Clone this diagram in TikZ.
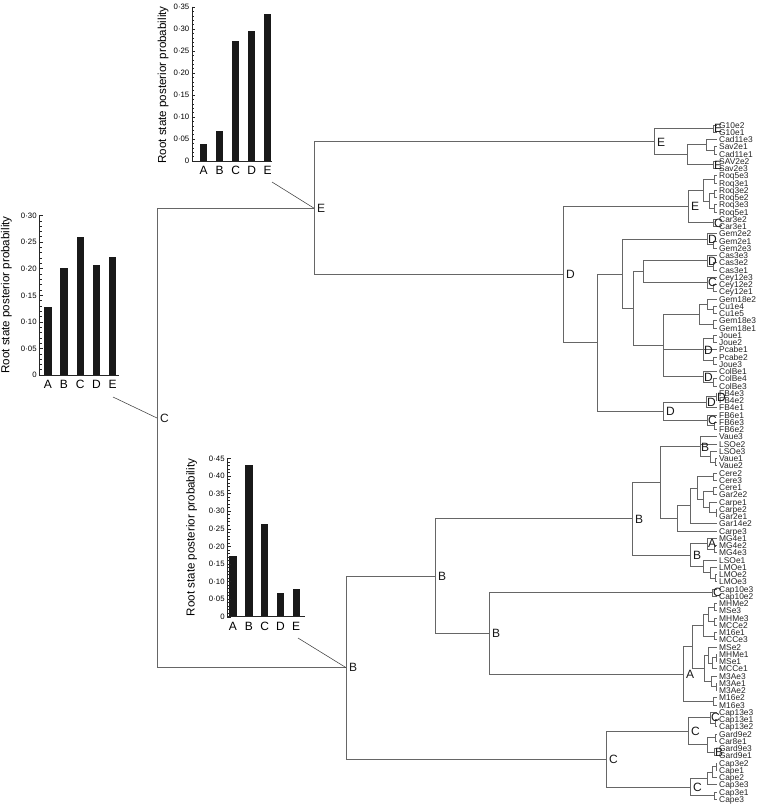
\documentclass[tikz,border=0pt]{standalone}
\usepackage{fontspec}
\setmainfont{Liberation Sans}
\usetikzlibrary{calc}
\newcommand\innode[4]{%
  \path let \p1=(#3), \p2=(#4) in coordinate (#1) at (#2pt,{0.5*(\y1+\y2)});
  \draw[br] (#1) |- (#3);
  \draw[br] (#1) |- (#4);}
\newcommand\innodeiii[5]{%
  \path let \p1=(#3), \p2=(#5) in coordinate (#1) at (#2pt,{0.5*(\y1+\y2)});
  \draw[br] (#1) |- (#3);
  \draw[br] (#1) |- (#4);
  \draw[br] (#1) |- (#5);}
\newcommand\biglab[2]{\node[nl] (n#1) at ([xshift=3pt]#1) {#2};}
\newcommand\smlab[2]{\node[nl] (n#1) at ([xshift=0.8pt]#1) {#2};}
\tikzset{
  br/.style={draw=black!60, line width=0.9pt},
  tip/.style={anchor=west, inner sep=0pt, xshift=2pt, font=\fontsize{8.4}{8.4}\selectfont, text height=6pt, text depth=0pt, text=black!85},
  nl/.style={anchor=west, inner sep=0pt, font=\fontsize{12}{12}\selectfont, text height=8.6pt, text depth=0pt, text=black!90},
  ax/.style={draw=black!85, line width=0.6pt},
  tk/.style={draw=black!85, line width=0.4pt},
  bar/.style={fill=black!90},
  ticklab/.style={anchor=east, inner sep=0pt, font=\fontsize{7.8}{7.8}\selectfont, text height=5.6pt, text depth=0pt},
  cat/.style={inner sep=0pt, font=\fontsize{12}{12}\selectfont, text height=8.6pt, text depth=0pt},
  ttl/.style={inner sep=0pt, rotate=90, font=\fontsize{11.6}{11.6}\selectfont},
  ptr/.style={draw=black!75, line width=0.55pt}
}
\begin{document}
\begin{tikzpicture}[x=1pt, y=-1pt]
\useasboundingbox (0,0) rectangle (758,804);
\fill[white] (0,0) rectangle (758,804);

% ---------- leaves ----------
\foreach \n [count=\i] in {G10e2,G10e1,Cad11e3,Sav2e1,Cad11e1,SAV2e2,Sav2e3,Roq5e3,Roq3e1,Roq3e2,Roq5e2,Roq3e3,Roq5e1,Car3e2,Car3e1,Gem2e2,Gem2e1,Gem2e3,Cas3e3,Cas3e2,Cas3e1,Cey12e3,Cey12e2,Cey12e1,Gem18e2,Cu1e4,Cu1e5,Gem18e3,Gem18e1,Joue1,Joue2,Pcabe1,Pcabe2,Joue3,ColBe1,ColBe4,ColBe3,FB4e3,FB4e2,FB4e1,FB6e1,FB6e3,FB6e2,Vaue3,LSOe2,LSOe3,Vaue1,Vaue2,Cere2,Cere3,Cere1,Gar2e2,Carpe1,Carpe2,Gar2e1,Gar14e2,Carpe3,MG4e1,MG4e2,MG4e3,LSOe1,LMOe1,LMOe2,LMOe3,Cap10e3,Cap10e2,MHMe2,MSe3,MHMe3,MCCe2,M16e1,MCCe3,MSe2,MHMe1,MSe1,MCCe1,M3Ae3,M3Ae1,M3Ae2,M16e2,M16e3,Cap13e3,Cap13e1,Cap13e2,Gard9e2,Car8e1,Gard9e3,Gard9e1,Cap3e2,Cape1,Cape2,Cap3e3,Cap3e1,Cape3} {
  \coordinate (l\i) at (717,{125+(\i-1)*7.25});
  \node[tip] (t\i) at (l\i) {\n};
}

% ---------- E clade ----------
\innode{G10}{713}{l1}{l2}
\innode{Z}{714}{l4}{l5}
\innode{Y}{706}{l3}{Z}
\innode{W}{713}{l6}{l7}
\innode{X}{687}{Y}{W}
\innode{E1}{654}{G10}{X}
\innode{R1}{714}{l8}{l9}
\innode{R3}{714}{l10}{l11}
\innode{R4}{714}{l12}{l13}
\innode{R2}{709}{R3}{R4}
\innode{R}{703}{R1}{R2}
\innode{Car3}{713}{l14}{l15}
\innode{E2}{688}{R}{Car3}
\innode{Gem2b}{713}{l17}{l18}
\innode{Gem2}{707}{l16}{Gem2b}
\innode{Cas3b}{713}{l20}{l21}
\innode{Cas3}{707}{l19}{Cas3b}
\innode{Cey12b}{713}{l23}{l24}
\innode{Cey12}{707}{l22}{Cey12b}
\innode{S}{643}{Cas3}{Cey12}
\innode{Cu1}{713}{l26}{l27}
\innode{Gem18a}{707}{l25}{Cu1}
\innode{Gem18b}{713}{l28}{l29}
\innode{U}{699}{Gem18a}{Gem18b}
\innode{Jo1}{713}{l30}{l31}
\innode{Jo2}{713}{l33}{l34}
\innodeiii{V}{703}{Jo1}{l32}{Jo2}
\innode{ColB2}{713}{l36}{l37}
\innode{ColB}{703}{l35}{ColB2}
\innodeiii{T}{663}{U}{V}{ColB}
\innode{Q}{633}{S}{T}
\innode{P}{622}{Gem2}{Q}
\innode{FB4b}{716}{l38}{l39}
\innode{FB4}{706}{FB4b}{l40}
\innode{FB6b}{714}{l42}{l43}
\innode{FB6}{707}{l41}{FB6b}
\innode{FB}{663}{FB4}{FB6}
\innode{D2}{597}{P}{FB}
\innode{D}{563}{E2}{D2}
\innode{E}{314}{E1}{D}

% ---------- B clade ----------
\innode{Vd}{715}{l47}{l48}
\innode{Vc}{710}{l46}{Vd}
\innodeiii{Vb}{700}{l44}{l45}{Vc}
\innode{CC}{713}{l49}{l50}
\innode{CG}{713}{l51}{l52}
\innode{CG2}{716}{l54}{l55}
\innode{CP}{709}{l53}{CG2}
\innode{O2}{703}{CG}{CP}
\innode{O}{697}{CC}{O2}
\innode{O3}{690}{O}{l56}
\innode{N}{677}{O3}{l57}
\innode{B4}{660}{Vb}{N}
\innode{MG4b}{714}{l59}{l60}
\innode{MG4}{707}{l58}{MG4b}
\innode{LMOb}{715}{l63}{l64}
\innode{LMO}{710}{l62}{LMOb}
\innode{L}{703}{l61}{LMO}
\innode{MG}{690}{MG4}{L}
\innode{B3}{632}{B4}{MG}
\innode{Cap10}{712}{l65}{l66}
\innode{M1a}{714}{l67}{l68}
\innode{M1b}{714}{l69}{l70}
\innode{M1}{708}{M1a}{M1b}
\innode{M2}{714}{l71}{l72}
\innode{M12}{703}{M1}{M2}
\innode{M3a}{716}{l74}{l75}
\innode{M3b}{712}{M3a}{l76}
\innode{M3}{708}{l73}{M3b}
\innode{M4b}{716}{l78}{l79}
\innode{M4}{711}{l77}{M4b}
\innode{M34}{704}{M3}{M4}
\innode{Mtop}{692}{M12}{M34}
\innode{M16}{713}{l80}{l81}
\innode{A}{683}{Mtop}{M16}
\innode{B5}{489}{Cap10}{A}
\innode{B2}{435}{B3}{B5}
\innode{Cap13b}{715}{l83}{l84}
\innode{Cap13}{710}{l82}{Cap13b}
\innode{G9a}{715}{l85}{l86}
\innode{G9b}{714}{l87}{l88}
\innode{G9}{707}{G9a}{G9b}
\innode{C2}{688}{Cap13}{G9}
\innode{Cx}{716}{l89}{l90}
\innode{Cy}{712}{Cx}{l91}
\innode{Cz}{707}{Cy}{l92}
\innode{Cw}{714}{l93}{l94}
\innode{C3}{690}{Cz}{Cw}
\innode{C1}{606}{C2}{C3}
\innode{B}{346}{B2}{C1}

% ---------- root ----------
\coordinate (root) at (157,418);
\draw[br] (root) |- (E);
\draw[br] (root) |- (B);

% ---------- node labels ----------
\biglab{root}{C}
\biglab{E}{E}
\biglab{E1}{E}
\biglab{E2}{E}
\biglab{D}{D}
\biglab{FB}{D}
\biglab{B}{B}
\biglab{B2}{B}
\biglab{B3}{B}
\biglab{B5}{B}
\biglab{MG}{B}
\biglab{A}{A}
\biglab{C1}{C}
\biglab{C2}{C}
\biglab{C3}{C}
\smlab{G10}{E}
\smlab{W}{E}
\smlab{Car3}{C}
\smlab{Gem2}{D}
\smlab{Cas3}{D}
\smlab{Cey12}{C}
\smlab{V}{D}
\smlab{ColB}{D}
\smlab{FB4}{D}
\smlab{FB4b}{D}
\smlab{FB6}{C}
\smlab{Vb}{B}
\smlab{MG4}{A}
\smlab{Cap10}{C}
\smlab{Cap13}{C}
\smlab{G9b}{B}

% ---------- chart 1 (E node) ----------
\foreach \v [count=\k from 0] in {0.038,0.068,0.272,0.295,0.335}
  \fill[bar] ({200+16*\k},161) rectangle ++(7.4,{-\v*440});
\foreach \k in {0,...,35} \draw[tk] (192,{161-\k*4.4}) -- ++(2.4,0);
\foreach \k/\t in {0/0,1/0·05,2/0·10,3/0·15,4/0·20,5/0·25,6/0·30,7/0·35} {
  \draw[tk] (192,{161-\k*22}) -- ++(3.4,0);
  \node[ticklab] (ca\k) at (189.5,{161-\k*22}) {\t};
}
\draw[ax] (192,6.5) -- (192,161) -- (272,161);
\foreach \L [count=\k from 0] in {A,B,C,D,E}
  \node[cat] (cb\k) at ({203.7+16*\k},170) {\L};
\node[ttl] (catitle) at (163,85) {Root state posterior probability};
\coordinate (pa) at (272,182);
\draw[ptr] (pa) -- (E);

% ---------- chart 2 (root) ----------
\foreach \v [count=\k from 0] in {0.127,0.201,0.260,0.206,0.221}
  \fill[bar] ({44.1+16.2*\k},375) rectangle ++(7.4,{-\v*532});
\foreach \k in {0,...,30} \draw[tk] (39.3,{375-\k*5.32}) -- ++(2.4,0);
\foreach \k/\t in {0/0,1/0·05,2/0·10,3/0·15,4/0·20,5/0·25,6/0·30} {
  \draw[tk] (39.3,{375-\k*26.6}) -- ++(3.4,0);
  \node[ticklab] (cc\k) at (36.8,{375-\k*26.6}) {\t};
}
\draw[ax] (39.3,215) -- (39.3,375) -- (119,375);
\foreach \L [count=\k from 0] in {A,B,C,D,E}
  \node[cat] (cd\k) at ({47.8+16.2*\k},384) {\L};
\node[ttl] (cctitle) at (6.5,295) {Root state posterior probability};
\coordinate (pc) at (113,397);
\draw[ptr] (pc) -- (root);

% ---------- chart 3 (B node) ----------
\foreach \v [count=\k from 0] in {0.173,0.431,0.262,0.067,0.079}
  \fill[bar] ({229.3+15.8*\k},616.7) rectangle ++(7.4,{-\v*352});
\foreach \k in {0,...,45} \draw[tk] (227.3,{616.7-\k*3.52}) -- ++(2.4,0);
\foreach \k/\t in {0/0,1/0·05,2/0·10,3/0·15,4/0·20,5/0·25,6/0·30,7/0·35,8/0·40,9/0·45} {
  \draw[tk] (227.3,{616.7-\k*17.6}) -- ++(3.4,0);
  \node[ticklab] (ce\k) at (224.8,{616.7-\k*17.6}) {\t};
}
\draw[ax] (227.3,458) -- (227.3,616.7) -- (305,616.7);
\foreach \L [count=\k from 0] in {A,B,C,D,E}
  \node[cat] (cf\k) at ({233+15.8*\k},625.7) {\L};
\node[ttl] (cetitle) at (191.7,537.5) {Root state posterior probability};
\coordinate (pe) at (298,638);
\draw[ptr] (pe) -- (B);
\end{tikzpicture}
\end{document}
